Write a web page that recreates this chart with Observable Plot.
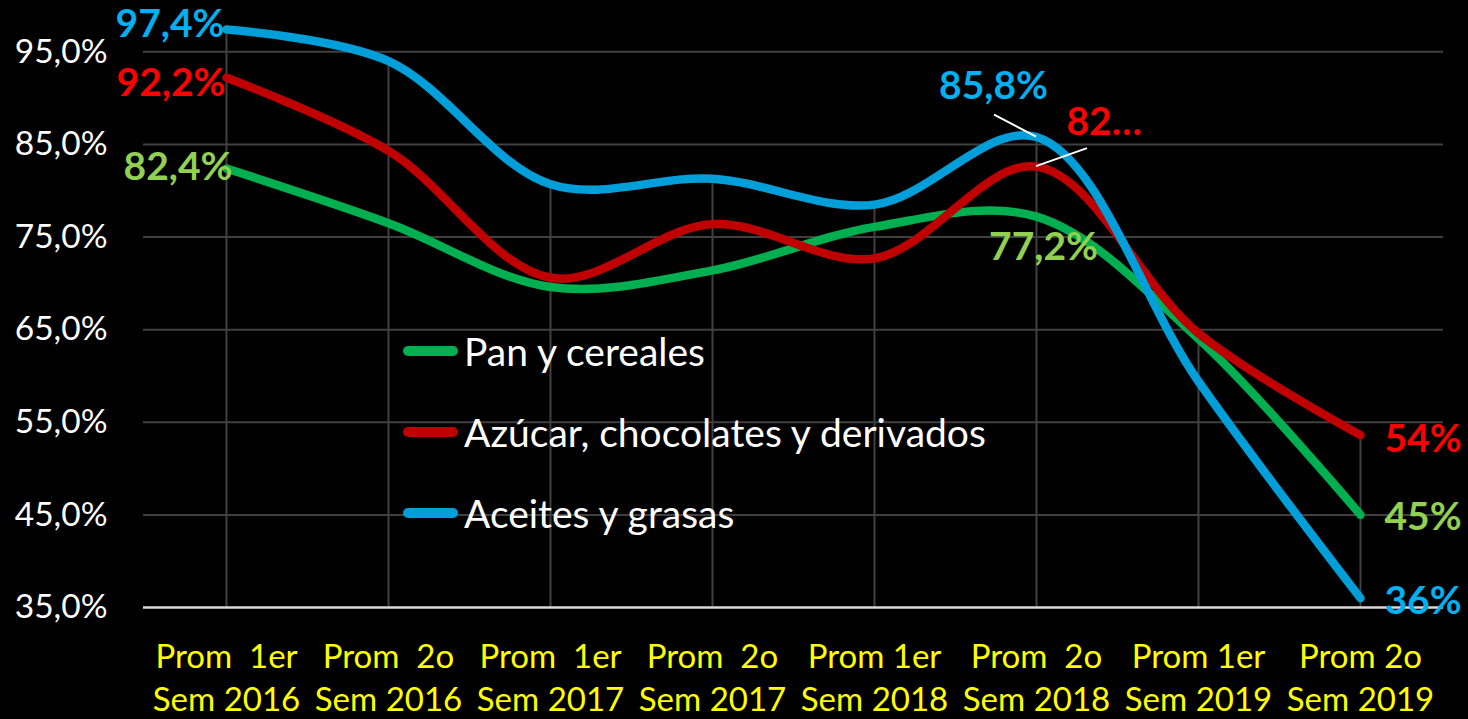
<!DOCTYPE html>
<html>
<head>
<meta charset="utf-8">
<script src="https://cdn.jsdelivr.net/npm/d3@7"></script>
<script src="https://cdn.jsdelivr.net/npm/@observablehq/plot@0.6"></script>
<style>
  html, body { margin: 0; padding: 0; background: #000; }
  #wrap { position: relative; width: 1468px; height: 719px; background: #000; font-family: Lato, "Open Sans", sans-serif; overflow: hidden; }
  #legend { position: absolute; left: 403px; top: 310px; color: #fff; font-size: 39px; }
  .row { display: flex; align-items: center; height: 81px; }
  .sw { width: 55px; height: 10px; border-radius: 5px; margin-right: 6px; }
</style>
</head>
<body>
<div id="wrap"><div id="chart"></div><div id="legend"></div></div>
<script>
const categories = [
  "Prom\u00A0 1er\nSem 2016", "Prom\u00A0 2o\nSem 2016", "Prom\u00A0 1er\nSem 2017", "Prom\u00A0 2o\nSem 2017",
  "Prom 1er\nSem 2018", "Prom\u00A0 2o\nSem 2018", "Prom 1er\nSem 2019", "Prom 2o\nSem 2019"
];
const seriesNames = ["Pan y cereales", "Azúcar, chocolates y derivados", "Aceites y grasas"];
const panCereales = [82.4, 76.5, 69.6, 71.4, 76.1, 77.2, 64.0, 45.0];
const azucar      = [92.2, 84.3, 70.6, 76.4, 72.7, 82.6, 64.6, 53.6];
const aceites     = [97.4, 94.0, 80.7, 81.3, 78.5, 85.8, 59.4, 36.0];
const panLabels     = ["82,4%", "77,2%", "45%"];
const azucarLabels  = ["92,2%", "82…", "54%"];
const aceitesLabels = ["97,4%", "85,8%", "36%"];
const labelIdx = [0, 5, 7];
const yTicks = [35, 45, 55, 65, 75, 85, 95];

const lineColors  = ["#00B050", "#C00000", "#009FD9"];
const labelColors = ["#92D050", "#FF0000", "#00B0F0"];
const allSeries = [panCereales, azucar, aceites];
const allLabels = [panLabels, azucarLabels, aceitesLabels];

const rows = [];
allSeries.forEach((s, k) => s.forEach((v, i) => rows.push({cat: categories[i], v, k})));
const maxAt = categories.map((c, i) => ({cat: c, top: Math.max(...allSeries.map(s => s[i]))}));

// label offsets per series, per label position (start, peak, end)
const offs = [
  [{dx: 6, dy: -1, a: "end"},  {dx: 7, dy: 31, a: "middle"},  {dx: 24, dy: 3, a: "start"}],
  [{dx: -1, dy: 6, a: "end"},  {dx: 30, dy: -44, a: "start"}, {dx: 24, dy: 4, a: "start"}],
  [{dx: -2, dy: -5, a: "end"}, {dx: -43, dy: -50, a: "middle"}, {dx: 24, dy: 3, a: "start"}]
];

const labelMarks = [];
allSeries.forEach((s, k) => {
  labelIdx.forEach((i, j) => {
    const o = offs[k][j];
    labelMarks.push(Plot.text([{cat: categories[i], v: s[i], t: allLabels[k][j]}], {
      x: "cat", y: "v", text: "t", dx: o.dx, dy: o.dy, textAnchor: o.a,
      fill: labelColors[k], fontSize: 39, fontWeight: "bold", lineAnchor: "middle"
    }));
  });
});

function leader(series, i, ex, ey) {
  return (index, scales) => {
    const px = scales.x(categories[i]), py = scales.y(series[i]);
    return d3.create("svg:line")
      .attr("x1", px).attr("y1", py).attr("x2", px + ex).attr("y2", py + ey)
      .attr("stroke", "#fff").attr("stroke-width", 2).node();
  };
}

const chart = Plot.plot({
  width: 1468, height: 719,
  marginLeft: 143, marginRight: 25, marginTop: 5, marginBottom: 112,
  style: {background: "#000", color: "#fff", fontFamily: "Lato, 'Open Sans', sans-serif", overflow: "visible"},
  x: {type: "point", domain: categories, padding: 0.5},
  y: {domain: [35, 100]},
  marks: [
    Plot.ruleY(yTicks.slice(1), {stroke: "#404040", strokeWidth: 2}),
    Plot.ruleX(maxAt, {x: "cat", y1: 35, y2: "top", stroke: "#404040", strokeWidth: 2}),
    Plot.ruleY([35], {stroke: "#d9d9d9", strokeWidth: 2.5}),
    ...allSeries.map((s, k) => Plot.line(rows.filter(r => r.k === k), {
      x: "cat", y: "v", stroke: lineColors[k], strokeWidth: 8.5, curve: "catmull-rom",
      strokeLinecap: "round", strokeLinejoin: "round"
    })),
    leader(aceites, 5, -42, -22),
    leader(azucar, 5, 51, -18),
    ...labelMarks,
    Plot.axisY({ticks: yTicks, tickSize: 0, tickPadding: 36, fontSize: 33.5, fill: "#fff",
      tickFormat: d => d.toFixed(1).replace(".", ",") + "%", label: null}),
    Plot.axisX({tickSize: 0, tickPadding: 30, fontSize: 33, fill: "#FFFF00", lineHeight: 1.3,
      tickFormat: d => d, label: null})
  ]
});
document.getElementById("chart").appendChild(chart);

const leg = document.getElementById("legend");
seriesNames.forEach((n, k) => {
  const r = document.createElement("div"); r.className = "row";
  const sw = document.createElement("div"); sw.className = "sw"; sw.style.background = lineColors[k];
  const t = document.createElement("span"); t.textContent = n;
  r.appendChild(sw); r.appendChild(t); leg.appendChild(r);
});
</script>
</body>
</html>
